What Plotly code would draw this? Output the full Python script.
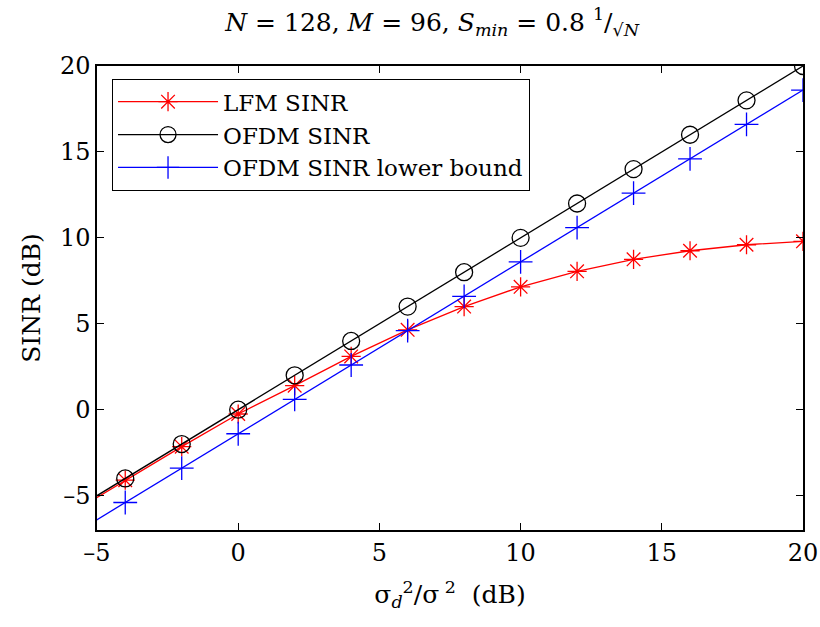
import plotly.graph_objects as go

x_vals = [-6, -4, -2, 0, 2, 4, 6, 8, 10, 12, 14, 16, 18, 20]
lfm_sinr = [-6.1, -4.1, -2.15, -0.25, 1.4, 3.1, 4.65, 6.0, 7.15, 8.05, 8.75, 9.25, 9.6, 9.8]
ofdm_sinr = [-6, -4, -2, 0, 2, 4, 6, 8, 10, 12, 14, 16, 18, 20]
ofdm_lower = [-7.4, -5.4, -3.4, -1.4, 0.6, 2.6, 4.6, 6.6, 8.6, 10.6, 12.6, 14.6, 16.6, 18.6]

x_ticks = [-5, 0, 5, 10, 15, 20]
y_ticks = [-5, 0, 5, 10, 15, 20]
tick_text = ["–5", "0", "5", "10", "15", "20"]

font = "DejaVu Serif"

fig = go.Figure()
fig.add_trace(go.Scatter(x=x_vals, y=lfm_sinr, mode="lines+markers", name="LFM SINR",
                         line=dict(color="#ff0000", width=1.3),
                         marker=dict(symbol="asterisk-open", size=16, color="#ff0000",
                                     line=dict(color="#ff0000", width=1.3))))
fig.add_trace(go.Scatter(x=x_vals, y=ofdm_sinr, mode="lines+markers", name="OFDM SINR",
                         line=dict(color="#000000", width=1.3),
                         marker=dict(symbol="circle-open", size=17, color="#000000",
                                     line=dict(color="#000000", width=1.3))))
fig.add_trace(go.Scatter(x=x_vals, y=ofdm_lower, mode="lines+markers", name="OFDM SINR lower bound",
                         line=dict(color="#0000ff", width=1.3),
                         marker=dict(symbol="cross-thin-open", size=17, color="#0000ff",
                                     line=dict(color="#0000ff", width=1.3))))

axis_common = dict(showgrid=False, zeroline=False, showline=True, linecolor="black", linewidth=1.5,
                   mirror="ticks", ticks="inside", ticklen=7, tickwidth=1, tickcolor="black",
                   automargin=False,
                   tickfont=dict(family=font, size=24, color="black"))

fig.update_layout(
    width=820, height=627,
    font=dict(family=font, size=24, color="black"),
    paper_bgcolor="white", plot_bgcolor="white",
    margin=dict(l=97, r=17, t=66, b=97),
    title=dict(text="<i>N</i> = 128, <i>M</i> = 96, <i>S<sub>min</sub></i> = 0.8 <sup>1</sup>/<sub>√<i>N</i></sub>",
               x=0.527, xanchor="center", y=0.965, yanchor="middle",
               font=dict(family=font, size=25, color="black")),
    xaxis=dict(range=[-5, 20], tickvals=x_ticks, ticktext=tick_text,
               title=dict(text="σ<sub><i>d</i></sub><sup>2</sup>/σ<sup> 2</sup>  (dB)",
                          font=dict(family=font, size=25, color="black"), standoff=20),
               **axis_common),
    yaxis=dict(range=[-7, 20], tickvals=y_ticks, ticktext=tick_text,
               title=dict(text="SINR (dB)", font=dict(family=font, size=25, color="black"), standoff=12),
               **axis_common),
    legend=dict(x=0.021, y=0.972, xanchor="left", yanchor="top",
                bgcolor="white", bordercolor="black", borderwidth=1.2,
                font=dict(family=font, size=23, color="black"),
                tracegroupgap=0, itemwidth=100),
    showlegend=True,
)

fig.write_html("out.html", config={"displayModeBar": False},
               post_script="document.body.style.margin='0';")
